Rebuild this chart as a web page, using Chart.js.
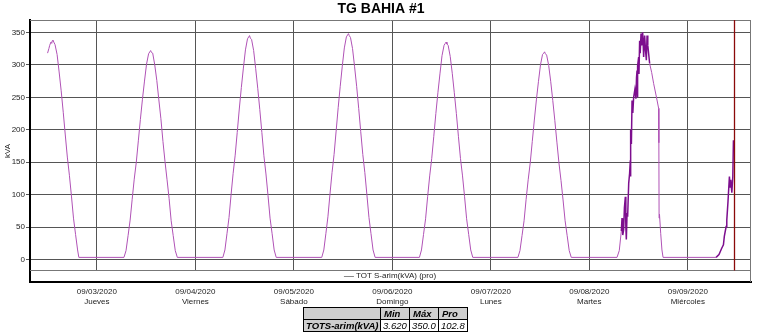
<!DOCTYPE html>
<html>
<head>
<meta charset="utf-8">
<script src="https://cdn.jsdelivr.net/npm/chart.js@4/dist/chart.umd.min.js"></script>
<style>
html, body { margin: 0; padding: 0; background: #fff; }
</style>
</head>
<body>
<canvas id="myChart" width="763" height="332"></canvas>
<script>
// chart texts
const chartTitle = 'TG BAHIA #1';
const seriesName = 'TOT S-arim(kVA) (pro)';
const yTitle = 'kVA';

// x axis: hours counted from 09/02/2020 00:00
const xMin = 7.7;
const xMax = 183.4;
const xTickHours = [24, 48, 72, 96, 120, 144, 168];
const tickDates = ['09/03/2020', '09/04/2020', '09/05/2020', '09/06/2020', '09/07/2020', '09/08/2020', '09/09/2020'];
const tickDays = ['Jueves', 'Viernes', 'Sábado', 'Domingo', 'Lunes', 'Martes', 'Miércoles'];
const nowHour = 179.36;   // red marker, 09/09 ~11:20

// y axis
const yMin = -34.3;
const yMax = 369;
const yTicks = [0, 50, 100, 150, 200, 250, 300, 350];
const bandValue = -15.9;  // legend strip under the plot

// readings per day: [hour of day, kVA]
const day0902 = [[11.98,318],[12.3,325],[12.5,330],[12.8,335],[13.0,333],[13.1,337],[13.3,338],[13.5,335],[13.8,331],[14.3,316],[14.8,289],[15.3,260],[15.8,227],[16.3,192],[16.8,158],[17.3,130],[17.8,98],[18.3,64],[18.8,39],[19.3,15],[19.6,3.6]];
const day0903 = [[6.6,3.6],[7.1,14],[7.6,37],[8.1,61],[8.6,93],[9.1,124],[9.6,150],[10.1,183],[10.6,216],[11.1,247],[11.6,275],[12.1,301],[12.6,317],[12.9,320],[13.1,322],[13.3,319],[13.6,318],[14.1,300],[14.6,276],[15.1,246],[15.6,217],[16.1,182],[16.6,151],[17.1,123],[17.6,94],[18.1,60],[18.6,37],[19.1,14],[19.6,3.6]];
const day0904 = [[6.7,3.6],[7.2,15],[7.7,40],[8.2,65],[8.7,100],[9.2,133],[9.7,161],[10.2,196],[10.7,232],[11.2,265],[11.7,295],[12.2,323],[12.7,340],[13.0,343],[13.2,345],[13.4,341],[13.7,339],[14.2,322],[14.7,294],[15.2,264],[15.7,231],[16.2,196],[16.7,160],[17.2,132],[17.7,99],[18.2,64],[18.7,40],[19.2,15],[19.7,3.6]];
const day0905 = [[6.8,3.6],[7.3,15],[7.8,40],[8.3,66],[8.8,101],[9.3,134],[9.8,162],[10.3,198],[10.8,234],[11.3,267],[11.8,298],[12.3,326],[12.8,343],[13.1,346],[13.3,348],[13.5,345],[13.8,342],[14.3,325],[14.8,297],[15.3,267],[15.8,233],[16.3,197],[16.8,162],[17.3,134],[17.8,100],[18.3,65],[18.8,40],[19.3,15],[19.8,3.6]];
const day0906 = [[6.6,3.6],[7.1,15],[7.6,39],[8.1,63],[8.6,97],[9.1,129],[9.6,156],[10.1,190],[10.6,225],[11.1,257],[11.6,286],[12.1,314],[12.6,330],[12.9,333],[13.1,335],[13.3,332],[13.6,330],[14.1,313],[14.6,287],[15.1,257],[15.6,225],[16.1,190],[16.6,156],[17.1,129],[17.6,97],[18.1,63],[18.6,39],[19.1,15],[19.6,3.6]];
const day0907 = [[6.6,3.6],[7.1,14],[7.6,37],[8.1,60],[8.6,93],[9.1,123],[9.6,149],[10.1,182],[10.6,215],[11.1,246],[11.6,274],[12.1,300],[12.6,316],[12.9,318],[13.1,320],[13.3,317],[13.6,315],[14.1,299],[14.6,274],[15.1,245],[15.6,214],[16.1,181],[16.6,149],[17.1,122],[17.6,92],[18.1,60],[18.6,37],[19.1,14],[19.6,3.6]];
const day0908 = [[6.75,3.6],[7.3,14],[7.8,44],[7.97,64],[8.15,38],[8.36,46],[8.55,80],[8.78,97],[8.9,52],[9.02,31],[9.2,72],[9.34,66],[9.6,118],[9.82,133],[10.0,153],[10.05,128],[10.09,200],[10.25,178],[10.41,245],[10.6,226],[10.8,250],[11.1,262],[11.35,248],[11.5,280],[11.63,291],[11.68,250],[11.85,298],[12.02,312],[12.1,286],[12.26,337],[12.4,318],[12.6,348],[12.75,330],[12.99,350],[13.1,338],[13.24,312],[13.48,345],[13.7,322],[13.9,307],[14.07,345],[14.25,330],[14.46,317],[14.7,302],[15.2,288],[15.68,271],[16.3,252],[16.89,233],[16.95,180],[17.0,64],[17.1,70],[17.4,40],[17.7,15],[17.97,3.6]];
const day0909 = [[6.9,3.6],[7.6,8],[8.29,18],[8.68,23],[8.9,36],[9.34,51],[9.5,61],[9.8,90],[10.14,128],[10.3,112],[10.48,123],[10.73,103],[10.97,128],[11.12,184]];

// summary table under the chart
const statHeaders = ['Min', 'Máx', 'Pro'];
const statLabel = 'TOTS-arim(kVA)';
const statValues = ['3.620', '350.0', '102.8'];

const FONT = '"Liberation Sans", Arial, sans-serif';
Chart.defaults.font.family = FONT;

function buildPoints() {
    let days = [day0902, day0903, day0904, day0905, day0906, day0907, day0908, day0909];
    let points = [];
    days.forEach((day, i) => {
        day.forEach(p => points.push({x: i * 24 + p[0], y: p[1]}));
    });
    return points;
}

// noisy stretch of 09/08 and 09/09 is drawn darker
function isNoisy(h) {
    return (h >= 151.5 && h <= 158.5) || h >= 174.5;
}

const overlay = {
    id: 'overlay',
    afterDatasetsDraw(chart) {
        const ctx = chart.ctx;
        const a = chart.chartArea;
        const x = chart.scales.x, y = chart.scales.y;
        const bandTop = Math.round(y.getPixelForValue(bandValue)) + 0.5;
        ctx.save();

        // legend strip
        ctx.fillStyle = '#fff';
        ctx.fillRect(a.left + 1.5, bandTop, a.right - a.left - 2, a.bottom - bandTop - 1);
        ctx.strokeStyle = '#777';
        ctx.lineWidth = 1;
        ctx.beginPath();
        ctx.moveTo(a.left, bandTop); ctx.lineTo(a.right, bandTop);
        ctx.moveTo(a.left, a.top + 0.5); ctx.lineTo(a.right, a.top + 0.5);
        ctx.moveTo(a.right - 0.5, a.top); ctx.lineTo(a.right - 0.5, a.bottom);
        ctx.stroke();

        const midY = (bandTop + a.bottom - 1) / 2;
        ctx.font = '8px ' + FONT;
        ctx.fillStyle = '#222';
        ctx.textBaseline = 'middle';
        ctx.textAlign = 'left';
        const tw = ctx.measureText(seriesName).width;
        const lx = 396 - tw / 2;
        ctx.strokeStyle = '#888';
        ctx.beginPath();
        ctx.moveTo(lx - 12, Math.round(midY) + 0.5); ctx.lineTo(lx - 2, Math.round(midY) + 0.5);
        ctx.stroke();
        ctx.fillText(seriesName, lx, midY);

        // "now" marker
        const nx = Math.round(x.getPixelForValue(nowHour)) + 0.5;
        ctx.strokeStyle = '#8b0a0a';
        ctx.lineWidth = 1.3;
        ctx.beginPath();
        ctx.moveTo(nx, a.top); ctx.lineTo(nx, bandTop);
        ctx.stroke();
        ctx.restore();
    },
    afterDraw(chart) {
        const ctx = chart.ctx;
        ctx.save();
        ctx.fillStyle = '#000';
        ctx.font = 'bold 14px ' + FONT;
        ctx.textAlign = 'center';
        ctx.textBaseline = 'middle';
        ctx.fillText(chartTitle, 381, 9);

        // stats table
        const tx = 303, ty = 307, rowH = 12;
        const colW = [77, 29, 29, 29];
        let cx = tx;
        ctx.textAlign = 'left';
        for (let c = 0; c < 4; c++) {
            ctx.fillStyle = '#cfcfcf';
            ctx.fillRect(cx, ty, colW[c], rowH);
            ctx.fillStyle = c == 0 ? '#cfcfcf' : '#fff';
            ctx.fillRect(cx, ty + rowH, colW[c], rowH);
            ctx.fillStyle = '#000';
            if (c == 0) {
                ctx.font = 'italic bold 9.5px ' + FONT;
                ctx.fillText(statLabel, cx + 3, ty + rowH * 1.5 + 1);
            } else {
                ctx.font = 'italic bold 9.5px ' + FONT;
                ctx.fillText(statHeaders[c - 1], cx + 4, ty + rowH * 0.5 + 1);
                ctx.font = 'italic 9.5px ' + FONT;
                ctx.fillText(statValues[c - 1], cx + 3, ty + rowH * 1.5 + 1);
            }
            cx += colW[c];
        }
        ctx.strokeStyle = '#000';
        ctx.lineWidth = 1;
        ctx.beginPath();
        cx = tx;
        for (let c = 0; c <= 4; c++) {
            ctx.moveTo(cx + 0.5, ty); ctx.lineTo(cx + 0.5, ty + rowH * 2);
            if (c < 4) cx += colW[c];
        }
        for (let r = 0; r <= 2; r++) {
            ctx.moveTo(tx, ty + r * rowH + 0.5); ctx.lineTo(cx + 1, ty + r * rowH + 0.5);
        }
        ctx.stroke();
        ctx.restore();
    }
};

window.onload = function () {
    let chartCtx = document.getElementById('myChart').getContext('2d');
    let kvaChart = new Chart(chartCtx, {
        type: 'line',
        data: {
            datasets: [{
                label: seriesName,
                data: buildPoints(),
                borderColor: '#b052b6',
                borderWidth: 1,
                pointRadius: 0,
                tension: 0,
                segment: {
                    borderColor: c => isNoisy(c.p0.parsed.x) ? '#7d0e8e' : '#b052b6',
                    borderWidth: c => isNoisy(c.p0.parsed.x) ? 1.5 : 1
                }
            }]
        },
        options: {
            responsive: false,
            animation: false,
            layout: { padding: { top: 20, right: 12, left: 0, bottom: 0 } },
            plugins: {
                legend: { display: false },
                title: { display: false },
                tooltip: { enabled: false }
            },
            scales: {
                x: {
                    type: 'linear',
                    min: xMin,
                    max: xMax,
                    afterBuildTicks: s => { s.ticks = xTickHours.map(v => ({value: v})); },
                    afterFit: s => { s.height = 50; },
                    grid: { color: '#555', lineWidth: 1, drawTicks: false },
                    border: { color: '#000', width: 2 },
                    ticks: {
                        autoSkip: false,
                        maxRotation: 0,
                        padding: 5,
                        color: '#222',
                        font: { size: 8 },
                        callback: v => {
                            let i = xTickHours.indexOf(v);
                            return i < 0 ? '' : [tickDates[i], tickDays[i]];
                        }
                    }
                },
                y: {
                    min: yMin,
                    max: yMax,
                    afterBuildTicks: s => { s.ticks = yTicks.map(v => ({value: v})); },
                    afterFit: s => { s.width = 30; },
                    grid: { color: '#555', lineWidth: 1, tickLength: 4 },
                    border: { color: '#000', width: 2 },
                    title: { display: true, text: yTitle, font: { size: 8 }, color: '#222', padding: { top: 3, bottom: 0 } },
                    ticks: { padding: 1, color: '#222', font: { size: 8 } }
                }
            }
        },
        plugins: [overlay]
    });
}
</script>
</body>
</html>
